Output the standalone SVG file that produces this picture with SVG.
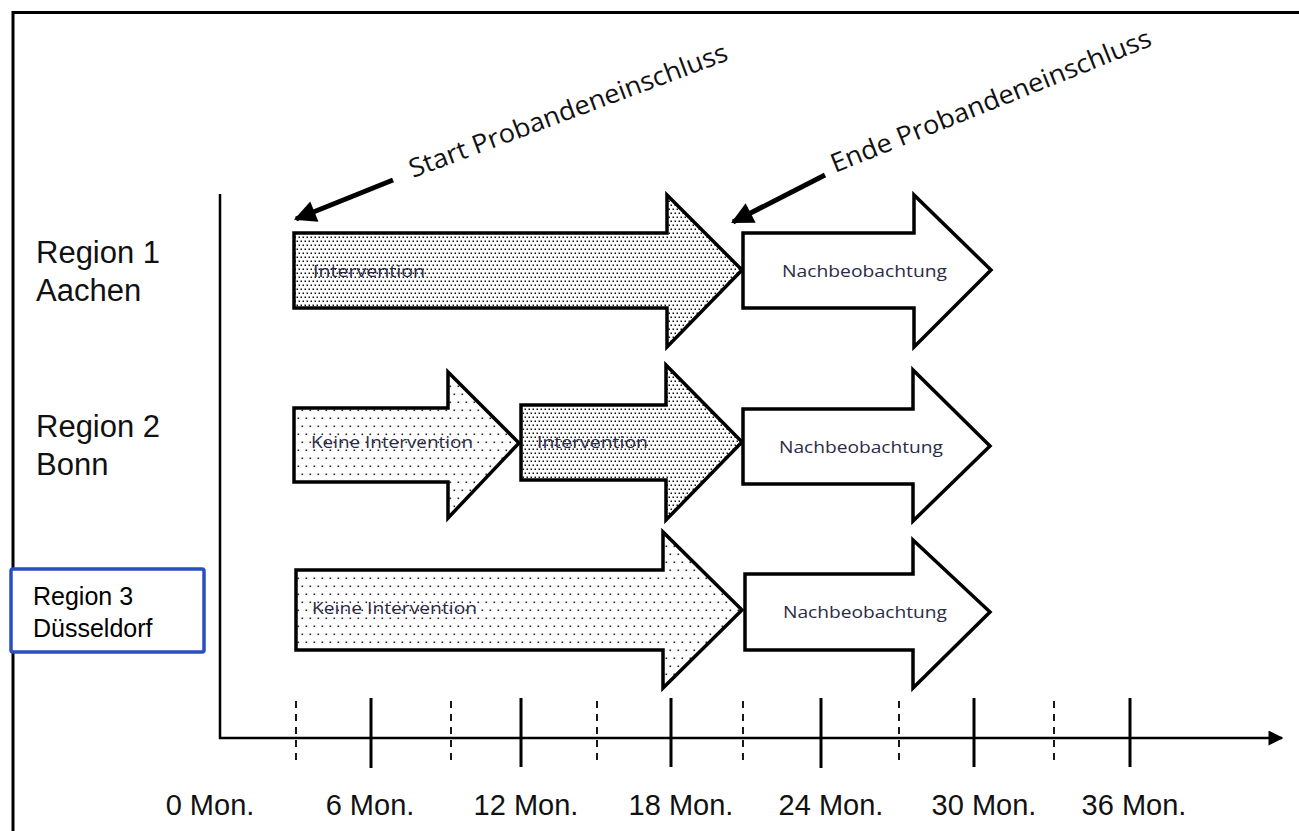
<svg xmlns="http://www.w3.org/2000/svg" width="1299" height="831" viewBox="0 0 1299 831">
<defs>
<pattern id="dense" width="4" height="8" patternUnits="userSpaceOnUse">
<rect width="4" height="8" fill="#fff"/>
<rect x="0.5" y="0.5" width="1.5" height="1.5" fill="#111"/>
<rect x="2.5" y="4.5" width="1.5" height="1.5" fill="#111"/>
</pattern>
<pattern id="sparse" width="8" height="16" patternUnits="userSpaceOnUse">
<rect width="8" height="16" fill="#fff"/>
<rect x="1.5" y="1.5" width="1.6" height="1.6" fill="#222"/>
<rect x="5.5" y="9.5" width="1.6" height="1.6" fill="#222"/>
</pattern>
<marker id="ptr" viewBox="0 0 10 10" refX="9" refY="5" markerWidth="26" markerHeight="22" markerUnits="userSpaceOnUse" orient="auto">
<path d="M0,0 L10,5 L0,10 Z" fill="#000"/>
</marker>
<marker id="axhead" viewBox="0 0 10 10" refX="9" refY="5" markerWidth="16" markerHeight="15" markerUnits="userSpaceOnUse" orient="auto">
<path d="M0,0 L10,5 L0,10 Z" fill="#000"/>
</marker>
</defs>
<style>
.frame{fill:none;stroke:#000;stroke-width:3}
.axis{fill:none;stroke:#000;stroke-width:2.5}
.tick{stroke:#000;stroke-width:3}
.dtick{stroke:#000;stroke-width:1.8;stroke-dasharray:7 6}
.arr{stroke:#000;stroke-width:3.5;stroke-linejoin:miter}
.ptr{stroke:#000;stroke-width:5;fill:none}
.lbl{font-family:"Open Sans","Noto Sans",sans-serif;font-size:16px;fill:#2a2a45}
.rot{font-family:"Open Sans","Noto Sans",sans-serif;font-size:26px;fill:#111}
.reg{font-family:"Liberation Sans",Arial,sans-serif;font-size:31px;fill:#111}
.reg3{font-family:"Liberation Sans",Arial,sans-serif;font-size:25px;fill:#000}
.mon{font-family:"Liberation Sans",Arial,sans-serif;font-size:29px;fill:#111;text-anchor:middle}
</style>
<rect width="1299" height="831" fill="#fff"/>
<path class="frame" d="M13,831 V12.5 H1299"/>

<g id="axes">
<path class="axis" d="M220,194 V738 H1282" marker-end="url(#axhead)"/>
<line class="tick" x1="371" y1="698" x2="371" y2="768"/>
<line class="tick" x1="521" y1="698" x2="521" y2="767"/>
<line class="tick" x1="671" y1="698" x2="671" y2="767"/>
<line class="tick" x1="821" y1="698" x2="821" y2="768"/>
<line class="tick" x1="974" y1="698" x2="974" y2="767"/>
<line class="tick" x1="1130" y1="698" x2="1130" y2="767"/>
<line class="dtick" x1="296" y1="701" x2="296" y2="766"/>
<line class="dtick" x1="451" y1="701" x2="451" y2="766"/>
<line class="dtick" x1="597" y1="701" x2="597" y2="766"/>
<line class="dtick" x1="743" y1="701" x2="743" y2="766"/>
<line class="dtick" x1="899" y1="701" x2="899" y2="766"/>
<line class="dtick" x1="1054" y1="701" x2="1054" y2="766"/>
<text class="mon" x="210" y="815">0 Mon.</text>
<text class="mon" x="370" y="815">6 Mon.</text>
<text class="mon" x="526" y="815">12 Mon.</text>
<text class="mon" x="681" y="815">18 Mon.</text>
<text class="mon" x="831" y="815">24 Mon.</text>
<text class="mon" x="984" y="815">30 Mon.</text>
<text class="mon" x="1134" y="815">36 Mon.</text>
</g>

<g id="region1-label">
<text class="reg" x="36" y="263">Region 1</text>
<text class="reg" x="36" y="301">Aachen</text>
</g>
<g id="region2-label">
<text class="reg" x="36" y="437">Region 2</text>
<text class="reg" x="36" y="475">Bonn</text>
</g>
<g id="region3-label">
<rect x="11" y="569" width="193" height="83" rx="2" fill="#fff" stroke="#2b4ebf" stroke-width="3.5"/>
<text class="reg3" x="33" y="605">Region 3</text>
<text class="reg3" x="33" y="637">Düsseldorf</text>
</g>

<g id="r1-intervention">
<path class="arr" fill="url(#dense)" d="M294,233 H667 V195 L742,270 L667,347 V308 H294 Z"/>
<text class="lbl" x="313" y="277" textLength="112" lengthAdjust="spacingAndGlyphs">Intervention</text>
</g>
<g id="r1-nachbeobachtung">
<path class="arr" fill="#fff" d="M743,233 H914 V195 L991,270 L914,347 V308 H743 Z"/>
<text class="lbl" x="782" y="277" textLength="165" lengthAdjust="spacingAndGlyphs">Nachbeobachtung</text>
</g>

<g id="r2-keine">
<path class="arr" fill="url(#sparse)" d="M294,408 H448 V372 L519,443 L448,518 V482 H294 Z"/>
<text class="lbl" x="311" y="448" textLength="162" lengthAdjust="spacingAndGlyphs">Keine Intervention</text>
</g>
<g id="r2-intervention">
<path class="arr" fill="url(#dense)" d="M521,405 H666 V365 L742,442 L666,520 V480 H521 Z"/>
<text class="lbl" x="537" y="448" textLength="111" lengthAdjust="spacingAndGlyphs">Intervention</text>
</g>
<g id="r2-nachbeobachtung">
<path class="arr" fill="#fff" d="M743,409 H913 V370 L990,446 L913,521 V484 H743 Z"/>
<text class="lbl" x="779" y="453" textLength="164" lengthAdjust="spacingAndGlyphs">Nachbeobachtung</text>
</g>

<g id="r3-keine">
<path class="arr" fill="url(#sparse)" d="M296,570 H663 V532 L742,610 L663,688 V650 H296 Z"/>
<text class="lbl" x="312" y="614" textLength="165" lengthAdjust="spacingAndGlyphs">Keine Intervention</text>
</g>
<g id="r3-nachbeobachtung">
<path class="arr" fill="#fff" d="M745,574 H913 V540 L990,612 L913,688 V650 H745 Z"/>
<text class="lbl" x="783" y="618" textLength="164" lengthAdjust="spacingAndGlyphs">Nachbeobachtung</text>
</g>

<g id="connectors">
<line class="ptr" x1="393" y1="180" x2="296" y2="219" marker-end="url(#ptr)"/>
<line class="ptr" x1="825" y1="175" x2="733" y2="222" marker-end="url(#ptr)"/>
</g>

<g id="start-label">
<text class="rot" transform="translate(413,178) rotate(-20.5)" textLength="338" lengthAdjust="spacingAndGlyphs">Start Probandeneinschluss</text>
</g>
<g id="end-label">
<text class="rot" transform="translate(835,173) rotate(-21.9)" textLength="343" lengthAdjust="spacingAndGlyphs">Ende Probandeneinschluss</text>
</g>
</svg>
